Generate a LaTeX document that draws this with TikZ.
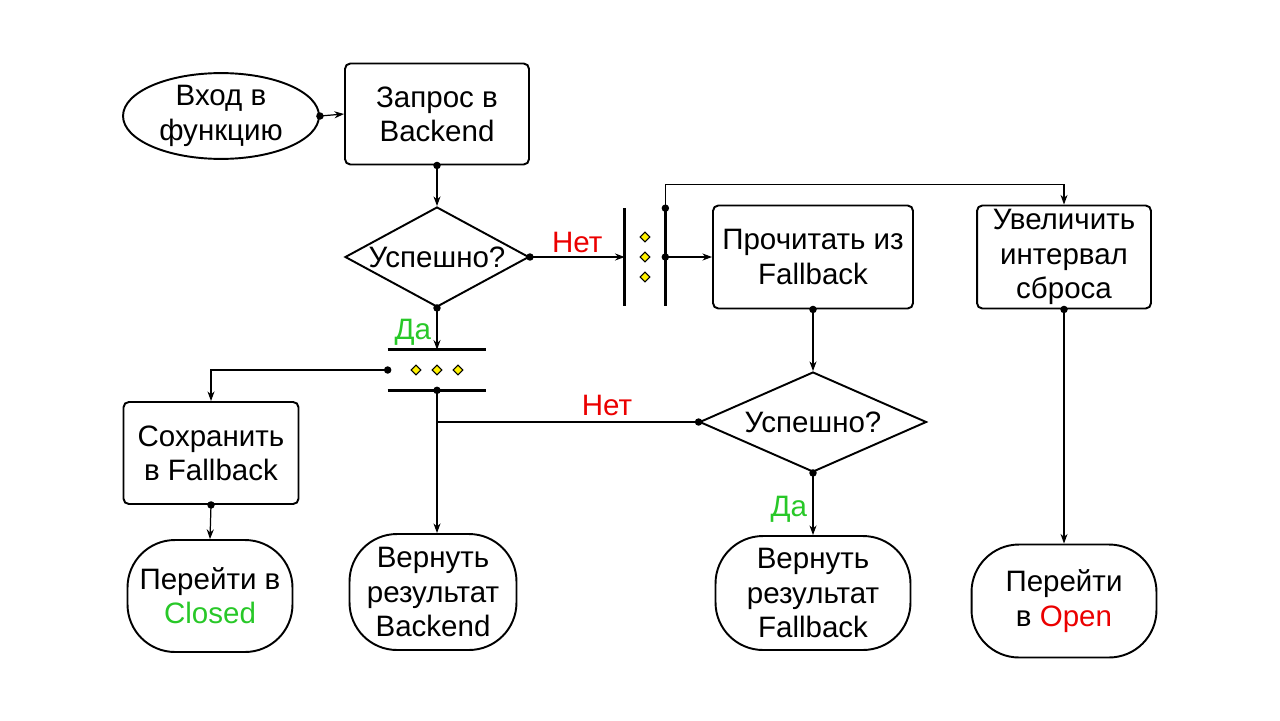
\documentclass[tikz,border=0pt]{standalone}
\usepackage{fontspec}
\setmainfont{Liberation Sans}
\usetikzlibrary{shapes.geometric, arrows.meta}
\definecolor{nored}{RGB}{235,0,0}
\definecolor{yesgreen}{RGB}{40,200,40}
\tikzset{
	>={Stealth[length=5.5pt, width=4pt]},
	x=0.02cm, y=-0.02cm,
	every node/.style={font=\fontsize{16.8}{19.5}\selectfont, align=center, inner sep=0pt},
	block/.style={draw, line width=1.1pt, rounded corners=3pt},
	terminal/.style={draw, line width=1.1pt, rounded corners=0.95cm},
	entry/.style={draw, ellipse, line width=1.1pt},
	check/.style={draw, diamond, line width=1.1pt},
	bar/.style={line width=1.6pt},
	gem/.style={draw, diamond, fill=yellow, minimum size=0.2cm, line width=0.6pt},
	flow/.style={line width=0.7pt},
	dotted start/.style={{Circle[length=4.2pt]}-, shorten <=-2.1pt},
	dot arrow/.style={{Circle[length=4.2pt]}->, shorten <=-2.1pt},
	nolabel/.style={text=nored, inner sep=3pt},
	yeslabel/.style={text=yesgreen, inner sep=3pt}}

\begin{document}
\begin{tikzpicture}
	\useasboundingbox (0,0) rectangle (1280,720);

	\node[entry, minimum width=3.92cm, minimum height=1.6cm] (start) at (221,116) {Вход в\\функцию};
	\node[block, minimum width=3.68cm, minimum height=2.02cm] (query) at (437,114) {Запрос в\\Backend};
	\node[check, minimum width=3.68cm, minimum height=2cm, label=center:{Успешно?}] (ok1) at (437,257) {};

	% split after failure
	\node[minimum width=0.8cm, minimum height=1.94cm] (split) at (645,257) {};
	\draw[bar] (split.north west) -- (split.south west);
	\draw[bar] (split.north east) -- (split.south east);
	\node[gem] (s1) at (645,237) {};
	\node[gem] (s2) at (645,257) {};
	\node[gem] (s3) at (645,277) {};

	% split after success
	\node[minimum width=1.96cm, minimum height=0.8cm] (join) at (437,370) {};
	\draw[bar] (join.north west) -- (join.north east);
	\draw[bar] (join.south west) -- (join.south east);
	\node[gem] (j1) at (416,370) {};
	\node[gem] (j2) at (437,370) {};
	\node[gem] (j3) at (458,370) {};

	\node[block, minimum width=4cm, minimum height=2.06cm] (read) at (813,257) {Прочитать из\\Fallback};
	\node[block, minimum width=3.48cm, minimum height=2.06cm] (grow) at (1064,257) {Увеличить\\интервал\\сброса};
	\node[block, minimum width=3.5cm, minimum height=2.04cm] (save) at (211,453) {Сохранить\\в Fallback};
	\node[check, minimum width=4.54cm, minimum height=2cm, label=center:{Успешно?}] (ok2) at (813,422) {};

	\node[terminal, minimum width=3.3cm, minimum height=2.24cm] (closed) at (210,596) {Перейти в\\\textcolor{yesgreen}{Closed}};
	\node[terminal, minimum width=3.34cm, minimum height=2.32cm] (retb) at (433,592) {Вернуть\\результат\\Backend};
	\node[terminal, minimum width=3.9cm, minimum height=2.28cm] (retf) at (813,593) {Вернуть\\результат\\Fallback};
	\node[terminal, minimum width=3.7cm, minimum height=2.26cm] (open) at (1064,601) {Перейти\\в \textcolor{nored}{Open}};

	\draw[flow, dot arrow] (start.east) -- (query.west);
	\draw[flow, dot arrow] (query.south) -- (ok1.north);
	\draw[flow, dot arrow] (ok1.east) -- node[nolabel, above, yshift=-1pt] {Нет} (split.west);
	\draw[flow, dot arrow] (ok1.south) -- node[yeslabel, left, pos=0.58] {Да} (join.north);
	\draw[flow, dot arrow] (split.east) -- (read.west);
	\draw[flow, dot arrow] (split.north east) -- ++(0,-24) -| (grow.north);
	\draw[flow, dot arrow] (join.west) -| (save.north);
	\draw[flow, dot arrow] (join.south) -- (join.south |- retb.north);
	\draw[flow, dot arrow] (save.south) -- (closed.north);
	\draw[flow, dot arrow] (read.south) -- (ok2.north);
	\draw[flow, dotted start] (ok2.west) -- node[nolabel, above, pos=0.35] {Нет} (ok2.west -| join.south);
	\draw[flow, dot arrow] (ok2.south) -- node[yeslabel, left, pos=0.58] {Да} (retf.north);
	\draw[flow, dot arrow] (grow.south) -- (open.north);
\end{tikzpicture}
\end{document}
